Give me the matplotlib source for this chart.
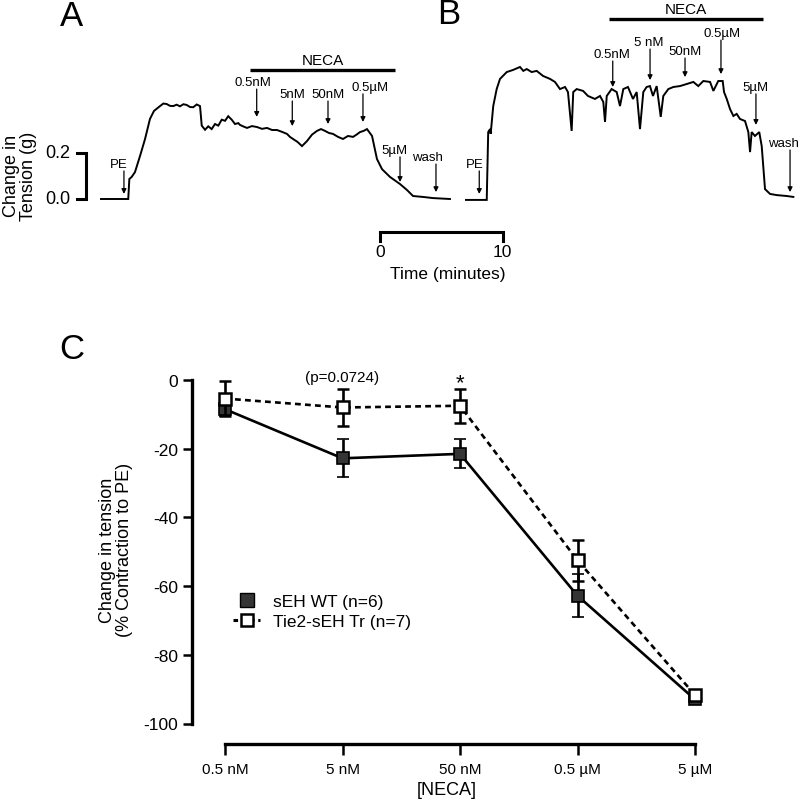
#!/usr/bin/env python3
"""
Isometric tension traces (A, B) and NECA concentration-response curve (C)
"""

import matplotlib
matplotlib.use('Agg')
import matplotlib.pyplot as plt
from matplotlib.lines import Line2D

plt.rcParams['font.family'] = ['Liberation Sans', 'DejaVu Sans']
plt.rcParams['axes.unicode_minus'] = False

# ---------------- data: traces (time in min, tension in g) ----------------
traceA_t = [0, 2.22, 2.31, 2.50, 2.77, 3.18, 3.59, 3.99, 4.32, 4.81, 5.08, 5.35,
            5.62, 5.89, 6.16, 6.44, 6.71, 6.98, 7.25, 7.52, 7.80, 8.07, 8.21, 8.48,
            8.74, 9.02, 9.29, 9.56, 9.84, 10.11, 10.37, 10.65, 10.92, 11.19, 11.33,
            11.62, 11.90, 12.30, 12.71, 13.12, 13.53, 13.94, 14.34, 14.75, 15.16,
            15.40, 15.65, 16.02, 16.38, 16.79, 17.20, 17.60, 17.93, 18.26, 18.58,
            18.91, 19.32, 19.72, 20.13, 20.54, 20.83, 21.11, 21.40, 21.68, 22.09,
            22.49, 22.90, 23.55, 24.37, 24.94, 25.43, 26.24, 27.06, 28.44]
traceA_g = [0, 0, 0.087, 0.096, 0.117, 0.187, 0.261, 0.348, 0.383, 0.404, 0.415,
            0.413, 0.405, 0.404, 0.410, 0.403, 0.412, 0.409, 0.400, 0.399, 0.411,
            0.404, 0.319, 0.301, 0.316, 0.304, 0.326, 0.319, 0.345, 0.340, 0.360,
            0.345, 0.326, 0.330, 0.322, 0.315, 0.309, 0.317, 0.313, 0.305, 0.309,
            0.300, 0.300, 0.292, 0.283, 0.270, 0.261, 0.248, 0.230, 0.252, 0.280,
            0.296, 0.304, 0.296, 0.287, 0.283, 0.270, 0.261, 0.274, 0.270, 0.280,
            0.291, 0.296, 0.304, 0.274, 0.174, 0.130, 0.096, 0.065, 0.039, 0.013,
            0.009, 0.004, 0.0]

traceB_t = [0, 1.69, 1.81, 1.96, 2.01, 2.22, 2.50, 2.77, 3.32, 3.83, 4.40, 4.67,
            4.95, 5.35, 5.76, 6.28, 6.85, 7.25, 7.66, 8.07, 8.31, 8.61, 8.74, 9.02,
            9.54, 9.94, 10.51, 10.92, 11.19, 11.33, 11.47, 11.87, 12.28, 12.55,
            12.82, 13.20, 13.61, 13.91, 14.18, 14.45, 14.72, 14.99, 15.24, 15.54,
            15.87, 16.08, 16.49, 16.90, 17.44, 17.99, 18.53, 18.93, 19.34, 19.89,
            20.16, 20.56, 20.92, 21.03, 21.25, 21.52, 21.79, 22.06, 22.33, 22.74,
            23.01, 23.15, 23.28, 23.55, 23.90, 24.10, 24.37, 24.78, 25.32, 26.14,
            26.68]
traceB_g = [-0.004, -0.004, 0.291, 0.304, 0.283, 0.404, 0.478, 0.522, 0.552,
            0.561, 0.574, 0.557, 0.565, 0.552, 0.557, 0.535, 0.522, 0.509, 0.478,
            0.487, 0.465, 0.296, 0.465, 0.478, 0.470, 0.448, 0.435, 0.448, 0.422,
            0.335, 0.448, 0.478, 0.465, 0.404, 0.478, 0.487, 0.435, 0.465, 0.304,
            0.465, 0.487, 0.491, 0.448, 0.491, 0.357, 0.448, 0.478, 0.487, 0.491,
            0.500, 0.509, 0.491, 0.513, 0.509, 0.470, 0.513, 0.513, 0.465, 0.435,
            0.391, 0.361, 0.370, 0.348, 0.339, 0.291, 0.204, 0.291, 0.274, 0.291,
            0.230, 0.043, 0.022, 0.017, 0.013, 0.009]

# arrow annotations: label, arrow time, tail g, tip g, label time
marksA = [('PE', 1.87, 0.122, 0.022, 1.47),
          ('0.5nM', 12.69, 0.478, 0.357, 12.39),
          ('5nM', 15.59, 0.426, 0.317, 15.57),
          ('50nM', 18.50, 0.426, 0.326, 18.50),
          ('0.5µM', 21.35, 0.457, 0.335, 21.92),
          ('5µM', 24.37, 0.183, 0.074, 23.88),
          ('wash', 27.30, 0.152, 0.030, 26.57)]
marksB = [('PE', 1.08, 0.122, 0.022, 0.68),
          ('0.5nM', 11.96, 0.600, 0.487, 11.87),
          ('5 nM', 15.00, 0.652, 0.517, 14.86),
          ('50nM', 17.85, 0.613, 0.530, 17.85),
          ('0.5µM', 20.78, 0.691, 0.543, 20.84),
          ('5µM', 23.63, 0.457, 0.322, 23.63),
          ('wash', 26.41, 0.213, 0.030, 25.90)]
necaA = (12.14, 23.96, 0.561)
necaB = (11.68, 24.23, 0.783)

# ---------------- data: concentration response ----------------
conc_labels = ['0.5 nM', '5 nM', '50 nM', '0.5 µM', '5 µM']
wt_mean = [-8.5, -22.8, -21.5, -62.8, -93.0]
wt_sem = [2.0, 5.5, 4.2, 6.2, 1.0]
tr_mean = [-5.4, -8.0, -7.5, -52.5, -91.7]
tr_sem = [5.0, 5.4, 5.0, 6.0, 1.0]

# ---------------- layout ----------------
W, H = 800, 803
PX_MIN = 12.27   # px per minute
PX_G = 230.0     # px per gram
fig = plt.figure(figsize=(W / 100, H / 100), dpi=100)

top_h = 300


def trace_axes(x0):
    ax = fig.add_axes([0, 1 - top_h / H, 1, top_h / H])
    ax.set_xlim(-x0 / PX_MIN, (W - x0) / PX_MIN)
    ax.set_ylim(-(top_h - 200) / PX_G, 200 / PX_G)
    ax.axis('off')
    ax.patch.set_alpha(0)
    return ax


axA = trace_axes(101)
axB = trace_axes(466)

for ax, t, g, marks, neca in [(axA, traceA_t, traceA_g, marksA, necaA),
                              (axB, traceB_t, traceB_g, marksB, necaB)]:
    ax.plot(t, g, color='k', lw=1.4, solid_joinstyle='miter')
    for lab, ta, tail, tip, tl in marks:
        ax.annotate('', xy=(ta, tip), xytext=(ta, tail),
                    arrowprops=dict(arrowstyle='-|>', lw=0.9, color='k',
                                    mutation_scale=7, shrinkA=0, shrinkB=0))
        ax.annotate(lab, (tl, tail), xytext=(0, 0.5), textcoords='offset points',
                    ha='center', va='bottom', fontsize=9.5)
    ax.plot([neca[0], neca[1]], [neca[2], neca[2]], color='k', lw=2.4,
            solid_capstyle='butt')
    ax.annotate('NECA', ((neca[0] + neca[1]) / 2, neca[2]), xytext=(0, 1.8),
                textcoords='offset points', ha='center', va='bottom', fontsize=11)

# tension scale bar (panel A)
sb_t = -1.22
axA.plot([sb_t - 0.75, sb_t, sb_t, sb_t - 0.75], [0.2, 0.2, 0.0, 0.0],
         color='k', lw=2.2, solid_joinstyle='miter', clip_on=False)
axA.text(sb_t - 1.31, 0.2, '0.2', ha='right', va='center', fontsize=13)
axA.text(sb_t - 1.31, 0.0, '0.0', ha='right', va='center', fontsize=13)
axA.text(-6.64, 0.104, 'Change in\nTension (g)', rotation=90, ha='center',
         va='center', fontsize=13, linespacing=1.0)

# time scale bar
tb0 = 22.74
axA.plot([tb0, tb0, tb0 + 10, tb0 + 10], [-0.181, -0.145, -0.145, -0.181],
         color='k', lw=2.2, solid_joinstyle='miter', clip_on=False)
axA.text(tb0, -0.196, '0', ha='center', va='top', fontsize=12.5)
axA.text(tb0 + 10, -0.196, '10', ha='center', va='top', fontsize=12.5)
axA.text(tb0 + 5.54, -0.29, 'Time (minutes)', ha='center', va='top', fontsize=12.5)

fig.text(72 / W, 1 - 16 / H, 'A', fontsize=25, ha='center', va='center')
fig.text(449 / W, 1 - 15 / H, 'B', fontsize=25, ha='center', va='center')
fig.text(72 / W, 1 - 350 / H, 'C', fontsize=25, ha='center', va='center')

# ---------------- panel C ----------------
y0_px, y100_px = 381, 724.5
x_step = 117.5
left_px = 192
xmin = -(225 - left_px) / x_step
xmax = 4.05
axC = fig.add_axes([left_px / W, 1 - y100_px / H,
                    (xmax - xmin) * x_step / W, (y100_px - y0_px) / H])
x = list(range(len(conc_labels)))

axC.errorbar(x, wt_mean, yerr=wt_sem, fmt='-s', color='k', mfc='#353535',
             mec='k', mew=1.2, ms=9, lw=1.9, elinewidth=1.9, capsize=4.5,
             capthick=1.9, clip_on=False, zorder=3)
axC.errorbar(x, tr_mean, yerr=tr_sem, fmt='--s', color='k', mfc='white',
             mec='k', mew=1.8, ms=8.5, lw=1.9, elinewidth=1.9, capsize=4.5,
             capthick=1.9, dashes=(2.2, 1.6), clip_on=False, zorder=4)

axC.set_xlim(xmin, xmax)
axC.set_ylim(-100, 0)
axC.set_yticks([0, -20, -40, -60, -80, -100])
axC.set_xticks(x)
axC.set_xticklabels(conc_labels)
for s in ['top', 'right']:
    axC.spines[s].set_visible(False)
axC.spines['left'].set_linewidth(2.4)
axC.spines['bottom'].set_linewidth(2.4)
axC.spines['bottom'].set_position(('outward', 15))
axC.spines['bottom'].set_bounds(0, 4)
axC.tick_params(axis='y', width=1.8, length=6.5, direction='out', pad=3.5,
                labelsize=12.5)
axC.tick_params(axis='x', width=1.8, length=8, direction='out', pad=5,
                labelsize=11)
axC.set_xlabel('[NECA]', fontsize=13, labelpad=3)
fig.text(116 / W, 1 - 550 / H, 'Change in tension\n(% Contraction to PE)',
         rotation=90, ha='center', va='center', fontsize=13, linespacing=1.0)

axC.text(1, 0.9, '(p=0.0724)', ha='center', va='center', fontsize=11)
axC.text(2, -0.8, '*', ha='center', va='center', fontsize=16)

h_wt = Line2D([], [], ls='none', marker='s', mfc='#353535', mec='k', ms=10)
h_tr = Line2D([], [], ls='--', dashes=(1.5, 1.2), color='k', lw=2.2, marker='s',
              mfc='white', mec='k', mew=1.8, ms=8.5)
axC.legend([h_wt, h_tr], ['sEH WT (n=6)', 'Tie2-sEH Tr (n=7)'],
           loc='center left', bbox_to_anchor=(0.080, 0.326), frameon=False,
           borderpad=0, borderaxespad=0, handlelength=1.6, handletextpad=0.7,
           labelspacing=0.3, fontsize=12.5)

fig.savefig('out.png', dpi=100)
